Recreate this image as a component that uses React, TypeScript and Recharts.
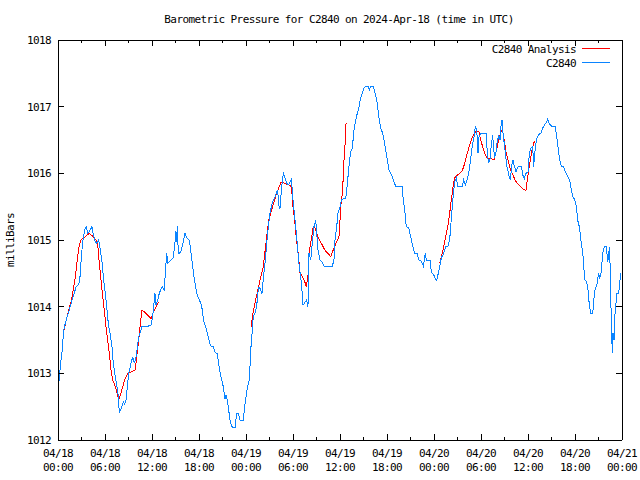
import React from "react";
import { LineChart, Line, XAxis, YAxis } from "recharts";

// hours since 2024-04-18 00:00 UTC
const obsHours = [
  0.09, 0.38, 0.6, 0.68, 0.93, 1.24, 1.44, 1.79, 2.08, 2.3, 2.64, 2.81, 2.94, 3.06, 3.23, 3.49, 3.64, 3.79,
  4.02, 4.34, 4.51, 4.76, 4.98, 5.2, 5.4, 5.62, 5.83, 6.04, 6.22, 6.42, 6.64, 6.89, 7.06, 7.31, 7.53, 7.7,
  7.83, 8.08, 8.34, 8.51, 8.68, 8.85, 9.03, 9.32, 9.54, 9.74, 9.96, 10.12, 10.3, 10.47, 10.72, 11.23, 11.87,
  12.09, 12.29, 12.38, 12.51, 12.73, 12.93, 13.28, 13.57, 13.7, 13.88, 14.0, 14.21, 14.46, 14.72, 14.94,
  15.06, 15.15, 15.23, 15.36, 15.66, 15.92, 16.21, 16.51, 16.76, 16.94, 17.14, 17.36, 17.58, 17.78, 18.04,
  18.34, 18.47, 18.68, 18.89, 19.06, 19.28, 19.49, 19.83, 20.04, 20.34, 20.51, 20.68, 20.9, 21.1, 21.32,
  21.45, 21.61, 21.79, 21.96, 22.17, 22.6, 22.81, 23.04, 23.23, 23.66, 23.83, 24.0, 24.17, 24.38, 24.51,
  24.64, 24.77, 24.93, 25.15, 25.37, 25.49, 25.66, 25.88, 26.04, 26.21, 26.38, 26.55, 26.72, 26.9, 27.06,
  27.28, 27.49, 27.7, 28.02, 28.25, 28.34, 28.56, 28.77, 28.85, 29.2, 29.43, 29.78, 29.87, 30.04, 30.26,
  30.47, 30.64, 30.8, 30.98, 31.11, 31.28, 31.49, 31.75, 31.91, 32.04, 32.26, 32.46, 32.68, 32.9, 33.03,
  33.19, 33.45, 33.66, 33.96, 35.02, 35.23, 35.36, 35.58, 35.74, 36.0, 36.17, 36.42, 36.73, 36.86, 37.02,
  37.19, 37.37, 37.57, 37.79, 38.0, 38.21, 38.43, 38.64, 38.85, 39.06, 39.28, 39.57, 39.74, 39.92, 40.25,
  40.43, 40.69, 40.85, 41.02, 41.2, 41.45, 41.62, 41.83, 42.04, 42.26, 42.47, 42.68, 42.89, 43.11, 43.91,
  44.04, 44.26, 44.46, 44.77, 45.02, 45.23, 45.54, 45.87, 46.04, 46.38, 46.64, 46.89, 47.02, 47.53, 47.66,
  47.96, 48.17, 48.34, 48.51, 48.73, 48.93, 49.24, 49.49, 49.79, 50.0, 50.13, 50.3, 50.46, 50.64, 50.85,
  51.06, 51.61, 51.79, 52.0, 52.21, 52.43, 52.6, 52.76, 52.94, 53.11, 53.28, 53.46, 53.62, 53.75, 53.96,
  54.68, 54.8, 54.98, 55.15, 55.31, 55.49, 55.62, 55.75, 55.87, 56.04, 56.26, 56.43, 56.55, 56.68, 56.81,
  57.02, 57.15, 57.32, 57.49, 57.62, 57.79, 57.87, 58.09, 58.17, 58.47, 58.6, 58.81, 59.15, 59.32, 59.53,
  59.74, 60.0, 60.17, 60.38, 60.6, 60.72, 60.85, 61.02, 61.19, 61.44, 61.7, 61.88, 62.13, 62.39, 62.51,
  62.72, 62.98, 63.49, 63.62, 63.79, 63.92, 64.09, 64.25, 64.53, 64.69, 64.85, 65.07, 65.28, 65.4, 65.53,
  65.71, 65.96, 66.13, 66.26, 66.38, 66.55, 66.68, 66.81, 66.98, 67.11, 67.24, 67.44, 67.62, 67.75, 67.88,
  68.04, 68.26, 68.39, 68.51, 68.68, 68.85, 68.98, 69.16, 69.32, 69.45, 69.57, 69.79, 70.0, 70.17, 70.3,
  70.38, 70.51, 70.64, 70.77, 70.85, 70.98, 71.11, 71.23, 71.36, 71.58, 71.71, 71.83,
];
const obsValues = [
  1012.83, 1013.2, 1013.4, 1013.62, 1013.75, 1013.88, 1013.95, 1014.1, 1014.2, 1014.3, 1014.33, 1014.45,
  1014.67, 1014.85, 1015.05, 1015.18, 1015.2, 1015.1, 1015.13, 1015.2, 1015.08, 1014.97, 1014.95, 1015.0,
  1014.85, 1014.67, 1014.4, 1014.2, 1014.0, 1013.75, 1013.6, 1013.4, 1013.15, 1012.95, 1012.8, 1012.65,
  1012.41, 1012.48, 1012.57, 1012.53, 1012.6, 1012.8, 1013.0, 1013.15, 1013.25, 1013.15, 1013.25, 1013.38,
  1013.55, 1013.6, 1013.7, 1013.7, 1013.72, 1013.85, 1014.1, 1014.2, 1014.02, 1014.1, 1014.2, 1014.3,
  1014.25, 1014.5, 1014.8, 1014.65, 1014.67, 1014.7, 1014.73, 1014.98, 1015.13, 1014.97, 1015.21, 1014.8,
  1014.81, 1014.93, 1015.1, 1015.02, 1015.0, 1014.85, 1014.65, 1014.45, 1014.28, 1014.18, 1014.1, 1014.02,
  1013.88, 1013.75, 1013.68, 1013.6, 1013.5, 1013.41, 1013.4, 1013.32, 1013.29, 1013.15, 1013.02, 1012.9,
  1012.8, 1012.62, 1012.68, 1012.6, 1012.45, 1012.3, 1012.2, 1012.18, 1012.4, 1012.4, 1012.3, 1012.3,
  1012.5, 1012.65, 1012.78, 1012.88, 1013.1, 1013.4, 1013.6, 1013.85, 1013.9, 1014.0, 1014.2, 1014.3,
  1014.25, 1014.2, 1014.42, 1014.6, 1014.82, 1015.05, 1015.25, 1015.4, 1015.52, 1015.6, 1015.65, 1015.75,
  1015.47, 1015.48, 1015.8, 1016.0, 1015.98, 1015.85, 1015.83, 1015.91, 1015.8, 1015.55, 1015.3, 1015.05,
  1014.8, 1014.6, 1014.45, 1014.3, 1014.02, 1014.06, 1014.1, 1014.0, 1014.8, 1014.7, 1014.95, 1015.2,
  1015.3, 1015.1, 1014.85, 1014.7, 1014.68, 1014.61, 1014.61, 1014.7, 1015.0, 1015.2, 1015.4, 1015.5,
  1015.6, 1015.62, 1015.63, 1015.75, 1015.95, 1016.15, 1016.33, 1016.38, 1016.65, 1016.8, 1016.9, 1017.0,
  1017.13, 1017.21, 1017.28, 1017.31, 1017.31, 1017.25, 1017.31, 1017.31, 1017.23, 1017.1, 1016.95,
  1016.8, 1016.68, 1016.6, 1016.5, 1016.35, 1016.2, 1016.05, 1016.0, 1015.95, 1015.87, 1015.81, 1015.81,
  1015.65, 1015.45, 1015.2, 1015.18, 1015.05, 1014.93, 1014.8, 1014.8, 1014.7, 1014.68, 1014.61, 1014.8,
  1014.7, 1014.7, 1014.51, 1014.48, 1014.42, 1014.4, 1014.48, 1014.6, 1014.73, 1014.8, 1014.9, 1014.91,
  1015.0, 1015.2, 1015.45, 1015.68, 1015.87, 1015.93, 1015.8, 1015.8, 1015.9, 1015.82, 1015.9, 1016.0,
  1016.15, 1016.3, 1016.45, 1016.55, 1016.71, 1016.65, 1016.3, 1016.55, 1016.6, 1016.6, 1016.3, 1016.15,
  1016.22, 1016.42, 1016.57, 1016.35, 1016.25, 1016.28, 1016.45, 1016.57, 1016.5, 1016.7, 1016.8, 1016.6,
  1016.4, 1016.25, 1016.1, 1016.02, 1015.93, 1015.91, 1016.1, 1016.2, 1016.15, 1016.02, 1016.07, 1016.11,
  1016.11, 1015.98, 1015.92, 1016.0, 1016.02, 1016.3, 1016.38, 1016.4, 1016.1, 1016.3, 1016.45, 1016.55,
  1016.59, 1016.61, 1016.68, 1016.73, 1016.77, 1016.81, 1016.74, 1016.71, 1016.71, 1016.57, 1016.45,
  1016.3, 1016.18, 1016.11, 1016.1, 1016.05, 1016.0, 1015.95, 1015.91, 1015.85, 1015.75, 1015.65,
  1015.61, 1015.52, 1015.4, 1015.28, 1015.2, 1015.08, 1014.95, 1014.82, 1014.63, 1014.4, 1014.38, 1014.3,
  1014.12, 1013.98, 1013.9, 1013.9, 1014.08, 1014.23, 1014.3, 1014.35, 1014.5, 1014.43, 1014.5, 1014.67,
  1014.82, 1014.91, 1014.91, 1014.67, 1014.75, 1014.9, 1014.55, 1013.7, 1013.3, 1013.6, 1013.5, 1013.9,
  1014.05, 1014.2, 1014.2, 1014.35, 1014.5,
];

// analysis, null marks a gap between runs
const anaHours = [
  0.8, 1.02, 1.37, 1.66, 1.95, 2.21, 2.46, 2.72, 2.94, 3.36, 4.0, 4.51, 4.85, 5.07, 5.27, 5.49, 5.71, 5.91,
  6.13, 6.34, 6.55, 6.77, 6.98, 7.24, 7.49, 7.75, 8.04, 8.26, 8.46, 8.68, 8.9, 9.32, 9.87, 10.05, 10.3,
  10.47, 10.72, 11.23, 11.87, 12.17, 12.51, 12.86, 18.0,
  24.7, 24.8, 25.5, 26.2, 26.6, 26.9, 27.4, 27.9, 28.5, 29.4, 29.8, 30.0, 30.25, 30.45, 30.66, 30.77, 30.86,
  31.19, 31.49, 31.7, 31.91, 32.04, 32.33, 32.55, 32.77, 33.19, 33.62, 34.06, 34.6, 34.81, 35.23, 35.58,
  35.87, 36.0, 36.08, 36.3, 36.42, 36.51, 36.64, 36.77, 42.0,
  48.73, 48.93, 49.15, 49.37, 49.57, 49.79, 50.0, 50.21, 50.43, 50.64, 51.06, 51.49, 51.7, 51.92, 52.12,
  52.34, 52.55, 52.85, 53.11, 53.4, 53.75, 53.96, 54.26, 54.55, 54.89, 55.32, 55.66, 55.87, 56.08, 56.3,
  56.6, 56.81, 57.02, 57.23, 57.45, 57.66, 57.87, 58.17, 58.38, 58.72, 59.02, 59.45, 59.74, 59.87, 60.09,
  60.3, 60.51, 60.72, 60.85,
];
const anaValues = [
  1013.65, 1013.78, 1013.95, 1014.07, 1014.25, 1014.45, 1014.7, 1014.93, 1015.0, 1015.04, 1015.1, 1015.05,
  1015.0, 1014.93, 1014.65, 1014.4, 1014.15, 1013.95, 1013.7, 1013.5, 1013.3, 1013.05, 1012.9, 1012.83,
  1012.73, 1012.61, 1012.7, 1012.8, 1012.88, 1012.95, 1013.0, 1013.02, 1013.05, 1013.25, 1013.5, 1013.7,
  1013.95, 1013.9, 1013.82, 1013.92, 1014.0, 1014.07, null,
  1013.7, 1013.85, 1014.25, 1014.6, 1015.0, 1015.3, 1015.5, 1015.7, 1015.87, 1015.83, 1015.8, 1015.5,
  1015.25, 1015.0, 1014.8, 1014.67, 1014.52, 1014.45, 1014.38, 1014.3, 1014.45, 1014.8, 1015.0, 1015.18,
  1015.2, 1015.05, 1014.95, 1014.85, 1014.78, 1014.75, 1014.88, 1014.98, 1015.05, 1015.3, 1015.5, 1015.7,
  1015.95, 1016.2, 1016.43, 1016.75, null,
  1014.65, 1014.75, 1014.85, 1014.98, 1015.1, 1015.22, 1015.4, 1015.6, 1015.8, 1015.93, 1015.98, 1016.02,
  1016.07, 1016.15, 1016.25, 1016.33, 1016.43, 1016.53, 1016.59, 1016.64, 1016.62, 1016.5, 1016.38,
  1016.27, 1016.22, 1016.22, 1016.2, 1016.3, 1016.4, 1016.53, 1016.64, 1016.6, 1016.45, 1016.3, 1016.2,
  1016.1, 1016.02, 1015.95, 1015.89, 1015.84, 1015.8, 1015.76, 1015.74, 1015.87, 1016.05, 1016.2, 1016.35,
  1016.45, 1016.48,
];

const xTickHours = [0, 3, 6, 9, 12, 15, 18, 21, 24, 27, 30, 33, 36, 39, 42, 45, 48, 51, 54, 57, 60, 63, 66, 69, 72];
const xLabelHours = [0, 6, 12, 18, 24, 30, 36, 42, 48, 54, 60, 66, 72];
const xLabelDates = ["04/18", "04/18", "04/18", "04/18", "04/19", "04/19", "04/19", "04/19", "04/20", "04/20", "04/20", "04/20", "04/21"];
const xLabelTimes = ["00:00", "06:00", "12:00", "18:00", "00:00", "06:00", "12:00", "18:00", "00:00", "06:00", "12:00", "18:00", "00:00"];
const yTicks = [1012, 1013, 1014, 1015, 1016, 1017, 1018];

const obsData = obsHours.map((t, i) => ({ t, v: obsValues[i] }));
const anaData = anaHours.map((t, i) => ({ t, v: anaValues[i] }));

const font = {
  fontFamily: "'DejaVu Sans Mono', monospace",
  fontSize: 11,
  letterSpacing: -0.6,
  fill: "#000",
};

const BottomTick = (props: any) => {
  const { x, y, payload } = props;
  const h = payload.value;
  const idx = xLabelHours.indexOf(h);
  const len = idx >= 0 ? 6 : 3;
  return (
    <g>
      <line x1={x} x2={x} y1={y} y2={y - len} stroke="#000" shapeRendering="crispEdges" />
      {idx >= 0 && (
        <text x={x} y={y + 17} textAnchor="middle" style={font}>
          {xLabelDates[idx]}
        </text>
      )}
      {idx >= 0 && (
        <text x={x} y={y + 31} textAnchor="middle" style={font}>
          {xLabelTimes[idx]}
        </text>
      )}
    </g>
  );
};

const TopTick = (props: any) => {
  const { x, y, payload } = props;
  const len = xLabelHours.indexOf(payload.value) >= 0 ? 6 : 3;
  return <line x1={x} x2={x} y1={y} y2={y + len} stroke="#000" shapeRendering="crispEdges" />;
};

const LeftTick = (props: any) => {
  const { x, y, payload } = props;
  return (
    <g>
      <line x1={x} x2={x + 6} y1={y} y2={y} stroke="#000" shapeRendering="crispEdges" />
      <text x={x - 7} y={y + 4} textAnchor="end" style={font}>
        {payload.value}
      </text>
    </g>
  );
};

const RightTick = (props: any) => {
  const { x, y } = props;
  return <line x1={x} x2={x - 6} y1={y} y2={y} stroke="#000" shapeRendering="crispEdges" />;
};

const axisLine = { stroke: "#000", shapeRendering: "crispEdges" } as any;

export default function App() {
  return (
    <div style={{ position: "absolute", left: 0, top: 0, width: 640, height: 480, background: "#fff" }}>
      <LineChart width={640} height={480} margin={{ top: 39, right: 17, bottom: 0, left: 0 }}>
        <XAxis
          xAxisId="b"
          type="number"
          dataKey="t"
          domain={[0, 72]}
          ticks={xTickHours}
          interval={0}
          height={40}
          tickSize={0}
          tickMargin={0}
          tickLine={false}
          axisLine={axisLine}
          tick={<BottomTick />}
          allowDataOverflow
        />
        <XAxis
          xAxisId="t"
          orientation="top"
          type="number"
          dataKey="t"
          domain={[0, 72]}
          ticks={xTickHours}
          interval={0}
          height={1}
          tickSize={0}
          tickMargin={0}
          tickLine={false}
          axisLine={axisLine}
          tick={<TopTick />}
          allowDataOverflow
        />
        <YAxis
          yAxisId="l"
          domain={[1012, 1018]}
          ticks={yTicks}
          interval={0}
          width={58}
          tickSize={0}
          tickMargin={0}
          tickLine={false}
          axisLine={axisLine}
          tick={<LeftTick />}
          allowDataOverflow
        />
        <YAxis
          yAxisId="r"
          orientation="right"
          domain={[1012, 1018]}
          ticks={yTicks}
          interval={0}
          width={1}
          tickSize={0}
          tickMargin={0}
          tickLine={false}
          axisLine={axisLine}
          tick={<RightTick />}
          allowDataOverflow
        />
        <Line
          xAxisId="b"
          yAxisId="l"
          data={anaData}
          dataKey="v"
          type="linear"
          stroke="#ff0000"
          strokeWidth={1}
          shapeRendering="crispEdges"
          dot={false}
          connectNulls={false}
          isAnimationActive={false}
        />
        <Line
          xAxisId="b"
          yAxisId="l"
          data={obsData}
          dataKey="v"
          type="linear"
          stroke="#0a84ff"
          strokeWidth={1}
          shapeRendering="crispEdges"
          dot={false}
          isAnimationActive={false}
        />
      </LineChart>
      <svg width={640} height={480} style={{ position: "absolute", left: 0, top: 0, pointerEvents: "none" }}>
        <text x={339} y={23} textAnchor="middle" style={font}>
          Barometric Pressure for C2840 on 2024-Apr-18 (time in UTC)
        </text>
        <text x={14} y={240} textAnchor="middle" transform="rotate(-90 14 240)" style={font}>
          milliBars
        </text>
        <text x={576} y={53} textAnchor="end" style={font}>
          C2840 Analysis
        </text>
        <line x1={582} x2={610} y1={48.5} y2={48.5} stroke="#ff0000" />
        <text x={576} y={67} textAnchor="end" style={font}>
          C2840
        </text>
        <line x1={582} x2={610} y1={62.5} y2={62.5} stroke="#0a84ff" />
      </svg>
    </div>
  );
}
